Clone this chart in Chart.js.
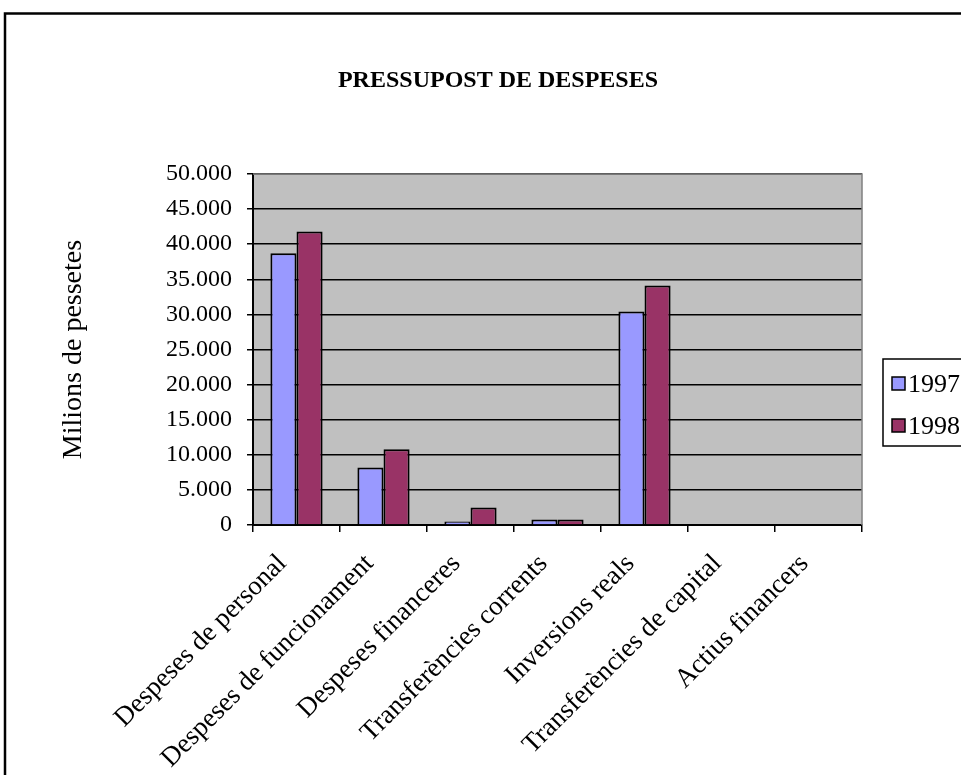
<!DOCTYPE html>
<html>
<head>
<meta charset="utf-8">
<script src="https://cdn.jsdelivr.net/npm/chart.js@4"></script>
<style>
  html, body { margin: 0; padding: 0; background: #fff; overflow: hidden; }
  #wrap { width: 961px; height: 775px; }
</style>
</head>
<body>
<div id="wrap"><canvas id="chart"></canvas></div>
<script>
// data (milions de pessetes)
const categories = ['Despeses de personal', 'Despeses de funcionament', 'Despeses financeres',
  'Transferències corrents', 'Inversions reals', 'Transferències de capital', 'Actius financers'];
const seriesLabels = ['1997', '1998'];
const values1997 = [38700, 8200, 500, 800, 30400, 0, 0];
const values1998 = [41800, 10800, 2500, 800, 34100, 0, 0];
const yTickLabels = ['0', '5.000', '10.000', '15.000', '20.000', '25.000',
  '30.000', '35.000', '40.000', '45.000', '50.000'];
const chartTitle = 'PRESSUPOST DE DESPESES';
const yTitle = 'Milions de pessetes';

const serif = "'Liberation Serif', 'Times New Roman', serif";
Chart.defaults.font.family = serif;
Chart.defaults.color = '#000';

// outer frame, grey plot background, plot border and the title
// (the Excel chart object is wider than the window, so the title sits
// left of the canvas centre)
const frame = {
  id: 'frame',
  beforeDraw(chart) {
    const { ctx, chartArea: a } = chart;
    ctx.save();
    ctx.fillStyle = '#fff';
    ctx.fillRect(0, 0, chart.width, chart.height);
    ctx.strokeStyle = '#000';
    ctx.lineWidth = 2.5;
    ctx.strokeRect(5, 13.5, chart.width + 20, chart.height + 20);
    ctx.fillStyle = '#c0c0c0';
    ctx.fillRect(a.left, a.top, a.right - a.left, a.bottom - a.top);
    ctx.restore();
  },
  afterDraw(chart) {
    const { ctx, chartArea: a } = chart;
    ctx.save();
    ctx.strokeStyle = '#808080';
    ctx.lineWidth = 1.5;
    ctx.beginPath();
    ctx.moveTo(a.left, a.top);
    ctx.lineTo(a.right, a.top);
    ctx.lineTo(a.right, a.bottom);
    ctx.stroke();

    ctx.fillStyle = '#000';
    ctx.font = 'bold 24px ' + serif;
    ctx.textAlign = 'center';
    ctx.textBaseline = 'middle';
    ctx.fillText(chartTitle, 498, 81);
    ctx.restore();
  }
};

// Excel style legend box, partly out of the window on the right
const boxLegend = {
  id: 'boxLegend',
  afterDraw(chart) {
    const ctx = chart.ctx;
    ctx.save();
    ctx.strokeStyle = '#000';
    ctx.lineWidth = 1.5;
    ctx.strokeRect(883, 359, 120, 87);
    ctx.font = '26px ' + serif;
    ctx.textBaseline = 'middle';
    chart.data.datasets.forEach((ds, i) => {
      const y = 384 + i * 42;
      ctx.fillStyle = ds.backgroundColor;
      ctx.fillRect(892, y - 7, 13, 13);
      ctx.strokeRect(892, y - 7, 13, 13);
      ctx.fillStyle = '#000';
      ctx.fillText(ds.label, 908, y + 1);
    });
    ctx.restore();
  }
};

new Chart(document.getElementById('chart'), {
  type: 'bar',
  data: {
    labels: categories,
    datasets: [
      {
        label: seriesLabels[0],
        data: values1997,
        backgroundColor: '#9999ff',
        borderColor: '#000',
        borderWidth: 2
      }, {
        label: seriesLabels[1],
        data: values1998,
        backgroundColor: '#993366',
        borderColor: '#000',
        borderWidth: 2
      }
    ]
  },
  options: {
    responsive: true,
    maintainAspectRatio: false,
    animation: false,
    devicePixelRatio: 1,
    categoryPercentage: 0.6,
    barPercentage: 1,
    layout: { padding: { left: 57, right: 99, top: 174, bottom: 0 } },
    plugins: {
      legend: { display: false },
      tooltip: { enabled: false },
      title: { display: false }
    },
    scales: {
      x: {
        grid: { drawOnChartArea: false, drawTicks: true, tickLength: 7, color: '#000', lineWidth: 1.5 },
        border: { color: '#000', width: 2 },
        ticks: {
          font: { size: 27 },
          minRotation: 45,
          maxRotation: 45,
          padding: 16,
          labelOffset: -14,
          autoSkip: false
        },
        afterFit(scale) { scale.height = 250; }
      },
      y: {
        min: 0,
        max: 50000,
        grid: { color: '#000', lineWidth: 1.5, tickLength: 6 },
        border: { color: '#000', width: 2 },
        ticks: {
          stepSize: 5000,
          font: { size: 24 },
          padding: 15,
          callback: (v, i) => yTickLabels[i]
        },
        title: {
          display: true,
          text: yTitle,
          font: { size: 28 },
          padding: 0
        },
        afterFit(scale) { scale.width = 196; }
      }
    }
  },
  plugins: [frame, boxLegend]
});
</script>
</body>
</html>
